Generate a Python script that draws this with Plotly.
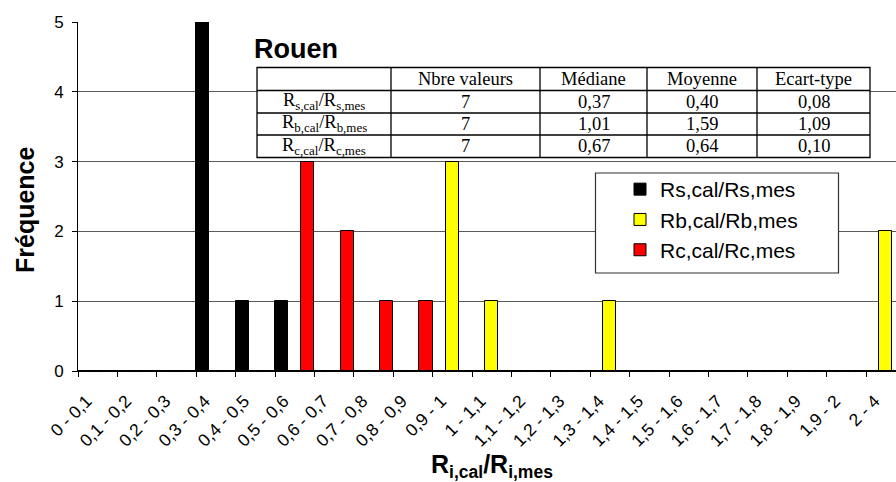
import plotly.graph_objects as go

# ---------------- data ----------------
categories = ["0 - 0,1", "0,1 - 0,2", "0,2 - 0,3", "0,3 - 0,4", "0,4 - 0,5", "0,5 - 0,6",
              "0,6 - 0,7", "0,7 - 0,8", "0,8 - 0,9", "0,9 - 1", "1 - 1,1", "1,1 - 1,2",
              "1,2 - 1,3", "1,3 - 1,4", "1,4 - 1,5", "1,5 - 1,6", "1,6 - 1,7", "1,7 - 1,8",
              "1,8 - 1,9", "1,9 - 2", "2 - 4"]
rs_counts = [0, 0, 0, 5, 1, 1, 0, 0, 0, 0, 0, 0, 0, 0, 0, 0, 0, 0, 0, 0, 0]
rb_counts = [0, 0, 0, 0, 0, 0, 0, 0, 0, 3, 1, 0, 0, 1, 0, 0, 0, 0, 0, 0, 2]
rc_counts = [0, 0, 0, 0, 0, 3, 2, 1, 1, 0, 0, 0, 0, 0, 0, 0, 0, 0, 0, 0, 0]
series_names = ["Rs,cal/Rs,mes", "Rb,cal/Rb,mes", "Rc,cal/Rc,mes"]
series_colors = ["#000000", "#FFFF00", "#FF0000"]

table_header = ["", "Nbre valeurs", "Médiane", "Moyenne", "Ecart-type"]
table_rows = ["R<sub>s,cal</sub>/R<sub>s,mes</sub>",
              "R<sub>b,cal</sub>/R<sub>b,mes</sub>",
              "R<sub>c,cal</sub>/R<sub>c,mes</sub>"]
nb_values = [7, 7, 7]
medians = [0.37, 1.01, 0.67]
means = [0.40, 1.59, 0.64]
stds = [0.08, 1.09, 0.10]

y_ticks = [0, 1, 2, 3, 4, 5]

# ---------------- geometry helpers (pixels -> paper) ----------------
W, H = 896, 482
L, R, T, B = 78, 0, 22, 111
PW, PH = W - L - R, H - T - B


def px(x):
    return (x - L) / PW


def py(y):
    return (H - B - y) / PH


def fmt(v):
    return f"{v:.2f}".replace(".", ",")


fig = go.Figure()
for name, vals, col in zip(series_names, [rs_counts, rb_counts, rc_counts], series_colors):
    fig.add_trace(go.Bar(
        x=categories, y=vals, name=name, legendgroup=name,
        marker=dict(color=col, line=dict(color="#000000", width=1)),
    ))

shapes = []
annotations = []

# ---- table ----
col_edges = [257, 391, 540, 647, 757, 870]
row_edges = [67.5, 90.5, 113, 135, 157.5]
shapes.append(dict(type="rect", xref="paper", yref="paper", layer="above",
                   x0=px(col_edges[0]), x1=px(col_edges[-1]),
                   y0=py(row_edges[-1]), y1=py(row_edges[0]),
                   fillcolor="white", line=dict(color="black", width=1.3)))
for xe in col_edges[1:-1]:
    shapes.append(dict(type="line", xref="paper", yref="paper", layer="above",
                       x0=px(xe), x1=px(xe), y0=py(row_edges[-1]), y1=py(row_edges[0]),
                       line=dict(color="black", width=1.3)))
for ye in row_edges[1:-1]:
    shapes.append(dict(type="line", xref="paper", yref="paper", layer="above",
                       x0=px(col_edges[0]), x1=px(col_edges[-1]), y0=py(ye), y1=py(ye),
                       line=dict(color="black", width=1.3)))

tfont = dict(family="Liberation Serif, Times New Roman, serif", size=18.5, color="black")
rows_text = [table_header] + [
    [table_rows[i], str(nb_values[i]), fmt(medians[i]), fmt(means[i]), fmt(stds[i])]
    for i in range(3)
]
for r, row in enumerate(rows_text):
    yc = (row_edges[r] + row_edges[r + 1]) / 2
    for c, txt in enumerate(row):
        if not txt:
            continue
        xc = (col_edges[c] + col_edges[c + 1]) / 2
        annotations.append(dict(x=px(xc), y=py(yc), xref="paper", yref="paper",
                                text=txt, showarrow=False, font=tfont,
                                xanchor="center", yanchor="middle"))

# ---- title Rouen ----
annotations.append(dict(x=px(252), y=py(49), xref="paper", yref="paper", text="<b>Rouen</b>",
                        showarrow=False, xanchor="left", yanchor="middle",
                        font=dict(family="Liberation Sans, Arial, sans-serif", size=27, color="black")))

# ---- legend box ----
shapes.append(dict(type="rect", xref="paper", yref="paper", layer="above",
                   x0=px(595.5), x1=px(838.5), y0=py(273), y1=py(173),
                   fillcolor="white", line=dict(color="#333333", width=1.2)))

# ---- axis titles ----
annotations.append(dict(x=px(492), y=py(466), xref="paper", yref="paper",
                        text="<b>R<sub>i,cal</sub>/R<sub>i,mes</sub></b>", showarrow=False,
                        xanchor="center", yanchor="middle",
                        font=dict(family="Liberation Sans, Arial, sans-serif", size=25, color="black")))
annotations.append(dict(x=px(25), y=py(210), xref="paper", yref="paper",
                        text="<b>Fréquence</b>", showarrow=False, textangle=-90,
                        xanchor="center", yanchor="middle",
                        font=dict(family="Liberation Sans, Arial, sans-serif", size=25, color="black")))

fig.update_layout(
    width=W, height=H,
    margin=dict(l=L, r=R, t=T, b=B, pad=0, autoexpand=False),
    paper_bgcolor="white", plot_bgcolor="white",
    barmode="group", bargap=0, bargroupgap=0,
    font=dict(family="Liberation Sans, Arial, sans-serif", color="black"),
    showlegend=True,
    legend=dict(x=px(620), y=py(169), xanchor="left", yanchor="top",
                bgcolor="rgba(0,0,0,0)", borderwidth=0,
                font=dict(size=21, color="black"),
                traceorder="grouped", tracegroupgap=0),
    shapes=shapes, annotations=annotations,
)
fig.update_xaxes(
    type="category", categoryorder="array", categoryarray=categories,
    range=[-0.5, -0.5 + PW / 39.4], automargin=False,
    showline=True, linecolor="black", linewidth=1,
    ticks="outside", tickson="boundaries", ticklen=5, tickcolor="black",
    tickangle=-45, tickfont=dict(size=17.5, color="black"),
    ticklabelshift=-11, ticklabelstandoff=12,
    showgrid=False, zeroline=False, fixedrange=True,
)
fig.update_yaxes(
    range=[0, 5], tickvals=y_ticks, automargin=False,
    showline=True, linecolor="black", linewidth=1,
    ticks="outside", ticklen=5, tickcolor="black",
    tickfont=dict(size=17, color="black"), ticklabelstandoff=5,
    showgrid=True, gridcolor="#5a5a5a", gridwidth=1,
    zeroline=False, fixedrange=True,
)

fig.write_html("out.html", config={"displayModeBar": False},
               post_script="document.body.style.margin='0';")
